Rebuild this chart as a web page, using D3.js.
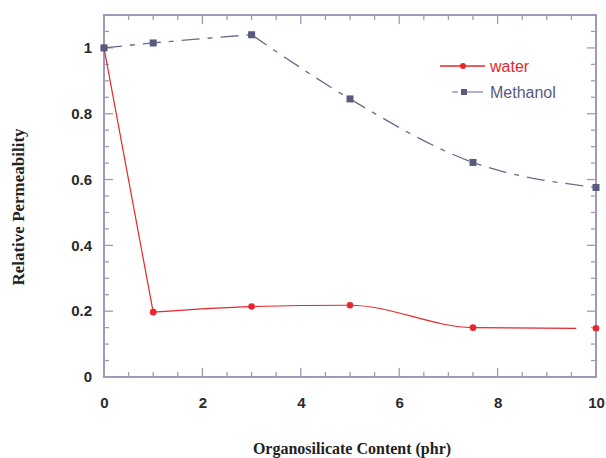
<!DOCTYPE html>
<html><head><meta charset="utf-8">
<script src="https://cdn.jsdelivr.net/npm/d3@7"></script>
<style>body{margin:0;background:#fff}svg{display:block}</style>
</head><body>
<script>
const xValues = [0, 1, 3, 5, 7.5, 10];
const waterValues = [1.0, 0.197, 0.214, 0.218, 0.150, 0.148];
const methanolValues = [1.0, 1.015, 1.04, 0.845, 0.652, 0.576];
const xTicks = [0, 2, 4, 6, 8, 10];
const yTicks = [0, 0.2, 0.4, 0.6, 0.8, 1];
const seriesNames = ["water", "Methanol"];

const W = 606, H = 458;
const m = {left: 104, right: 10, top: 15, bottom: 81};
const svg = d3.select("body").append("svg").attr("width", W).attr("height", H);
const x = d3.scaleLinear().domain([0, 10]).range([m.left, W - m.right]);
const y = d3.scaleLinear().domain([0, 1.1]).range([H - m.bottom, m.top]);
const axisColor = "#9c9cba";
const red = "#e8262b", blue = "#5a5a80";

// minor/major ticks (inward) on all sides
const g = svg.append("g");
const xMinor = d3.range(0, 10.01, 0.5);
const yMinor = d3.range(0, 1.101, 0.05);
xMinor.forEach(v => {
  const major = Math.round(v * 10) % 20 === 0;
  const L = major ? 9 : 5;
  g.append("line").attr("x1", x(v)).attr("x2", x(v)).attr("y1", y(0)).attr("y2", y(0) - L).attr("stroke", axisColor).attr("stroke-width", 1.3);
  g.append("line").attr("x1", x(v)).attr("x2", x(v)).attr("y1", y(1.1)).attr("y2", y(1.1) + L).attr("stroke", axisColor).attr("stroke-width", 1.3);
});
yMinor.forEach(v => {
  const major = Math.round(v * 100) % 20 === 0;
  const L = major ? 9 : 5;
  g.append("line").attr("x1", x(0)).attr("x2", x(0) + L).attr("y1", y(v)).attr("y2", y(v)).attr("stroke", axisColor).attr("stroke-width", 1.3);
  g.append("line").attr("x1", x(10)).attr("x2", x(10) - L).attr("y1", y(v)).attr("y2", y(v)).attr("stroke", axisColor).attr("stroke-width", 1.3);
});
g.append("rect").attr("x", x(0)).attr("y", y(1.1)).attr("width", x(10) - x(0)).attr("height", y(0) - y(1.1))
  .attr("fill", "none").attr("stroke", axisColor).attr("stroke-width", 2);

// tick labels
const xAxis = svg.append("g").attr("transform", `translate(0,${y(0)})`)
  .call(d3.axisBottom(x).tickValues(xTicks).tickSize(0).tickPadding(20).tickFormat(d3.format("d")));
xAxis.select(".domain").remove();
const yAxis = svg.append("g").attr("transform", `translate(${x(0)},0)`)
  .call(d3.axisLeft(y).tickValues(yTicks).tickSize(0).tickPadding(12).tickFormat(d => d === 0 || d === 1 ? String(d) : d.toFixed(1)));
yAxis.select(".domain").remove();
svg.selectAll(".tick text").attr("font-family", "Liberation Sans, Arial, sans-serif").attr("font-weight", "bold")
  .attr("font-size", 15).attr("fill", "#2a2a2a");

// lines
const pts = vals => xValues.map((v, i) => [v, vals[i]]);
const smooth = d3.line().x(d => x(d[0])).y(d => y(d[1])).curve(d3.curveMonotoneX);
const straight = d3.line().x(d => x(d[0])).y(d => y(d[1]));
const wp = pts(waterValues);
const mp = pts(methanolValues);
// water: steep drop, then smooth curve that stops slightly before the last point
const wPath = straight(wp.slice(0, 2)) + smooth(wp.slice(1, 5).concat([[9.6, waterValues[5]]]));
svg.append("path").attr("d", wPath).attr("fill", "none").attr("stroke", red).attr("stroke-width", 1.2);
const mPath = smooth(mp.slice(0, 3)) + smooth(mp.slice(2));
svg.append("path").attr("d", mPath).attr("fill", "none").attr("stroke", "#6a6a8c")
  .attr("stroke-width", 1.3).attr("stroke-dasharray", "18,8,5,8");

// markers
svg.selectAll(".wm").data(wp).enter().append("circle").attr("cx", d => x(d[0])).attr("cy", d => y(d[1]))
  .attr("r", 3.3).attr("fill", red);
svg.selectAll(".mm").data(mp).enter().append("rect")
  .attr("x", d => x(d[0]) - 3.5).attr("y", d => y(d[1]) - 3.5).attr("width", 7).attr("height", 7).attr("fill", blue);

// legend
const lg = svg.append("g");
lg.append("line").attr("x1", 440).attr("x2", 485).attr("y1", 66).attr("y2", 66).attr("stroke", red).attr("stroke-width", 1.3);
lg.append("circle").attr("cx", 463).attr("cy", 66).attr("r", 3).attr("fill", red);
lg.append("text").attr("x", 490).attr("y", 72).text(seriesNames[0]).attr("fill", red);
lg.append("line").attr("x1", 452).attr("x2", 485).attr("y1", 92).attr("y2", 92).attr("stroke", "#6a6a8c").attr("stroke-width", 1.2)
  .attr("stroke-dasharray", "6,3,22");
lg.append("rect").attr("x", 461).attr("y", 89).attr("width", 6).attr("height", 6).attr("fill", blue);
lg.append("text").attr("x", 490).attr("y", 98).text(seriesNames[1]).attr("fill", blue);
lg.selectAll("text").attr("font-family", "Liberation Sans, Arial, sans-serif").attr("font-size", 16);

// axis titles
svg.append("text").attr("x", 352).attr("y", 454).attr("text-anchor", "middle")
  .attr("font-family", "Liberation Serif, Times New Roman, serif").attr("font-weight", "bold").attr("font-size", 16)
  .attr("fill", "#222").text("Organosilicate Content (phr)");
svg.append("text").attr("transform", "translate(24,207) rotate(-90)").attr("text-anchor", "middle")
  .attr("font-family", "Liberation Serif, Times New Roman, serif").attr("font-weight", "bold").attr("font-size", 17)
  .attr("fill", "#222").text("Relative Permeability");
</script>
</body></html>
